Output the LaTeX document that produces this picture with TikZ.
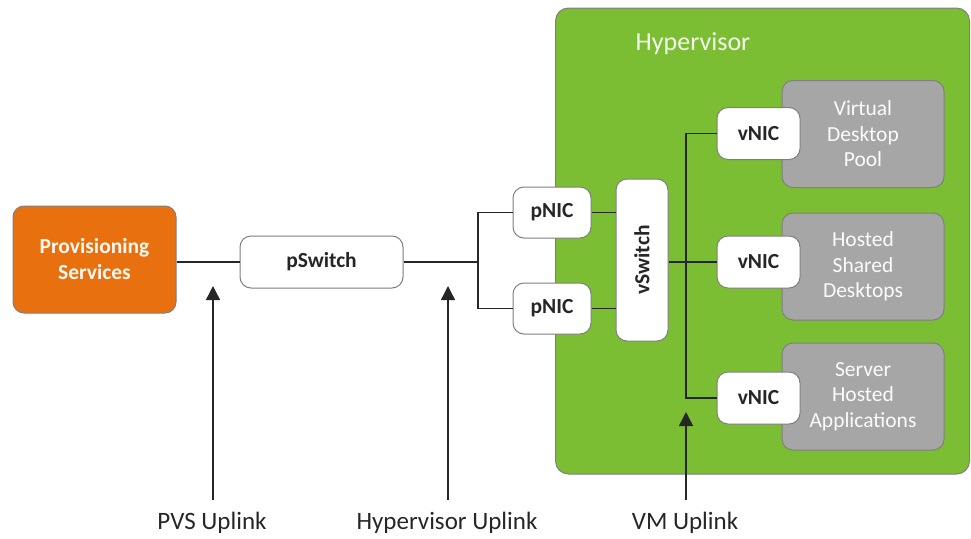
\documentclass[tikz,border=0pt]{standalone}
\usepackage{fontspec}
\setmainfont{Carlito}
\usetikzlibrary{arrows.meta}
\definecolor{hvgreen}{HTML}{7BBD33}
\definecolor{psorange}{HTML}{E8700F}
\definecolor{vmgray}{HTML}{A6A6A6}
\definecolor{bordergray}{HTML}{7F7F7F}
\definecolor{txt}{HTML}{262626}
\begin{document}
\begin{tikzpicture}[x=1pt,y=-1pt,
  every node/.style={font=\fontsize{21.5}{25.5}\selectfont, align=center, inner sep=0pt},
  wbox/.style={draw=bordergray, line width=1pt, fill=white, rounded corners=11pt, text=txt, font=\fontsize{21.5}{25.5}\selectfont\bfseries},
  gbox/.style={draw=bordergray, line width=1pt, fill=vmgray, rounded corners=11pt, text=white!95!vmgray, minimum width=162pt, minimum height=107pt, font=\fontsize{21.5}{25.5}\selectfont},
  conn/.style={line width=1.4pt, draw=black!85},
  uparr/.style={line width=1.4pt, draw=black!85, -{Triangle[width=14pt,length=14pt]}},
  lbl/.style={text=txt, font=\fontsize{25}{30}\selectfont}
]
\useasboundingbox (0,0) rectangle (971,538);
% hypervisor container
\node[draw=bordergray, line width=1pt, fill=hvgreen, rounded corners=13pt, minimum width=414pt, minimum height=466pt] (hv) at (762.5,241) {};
\node[text=white!90!hvgreen, font=\fontsize{26}{30}\selectfont] (hvl) at (693,44) {Hypervisor};
% left side
\node[draw=bordergray, line width=1pt, fill=psorange, rounded corners=11pt, minimum width=163pt, minimum height=107pt, text=white!95!psorange, font=\fontsize{21.5}{26}\selectfont\bfseries] (ps) at (94.5,259.5) {Provisioning\\Services};
\node[wbox, minimum width=163pt, minimum height=52pt] (psw) at (321.5,262) {pSwitch};
\node[wbox, minimum width=78pt, minimum height=51pt] (pn1) at (552,212.5) {pNIC};
\node[wbox, minimum width=78pt, minimum height=51pt] (pn2) at (552,308.5) {pNIC};
\node[wbox, minimum width=52pt, minimum height=162pt] (vsw) at (642,260) {};
\node[rotate=90, text=txt, font=\fontsize{21.5}{25.5}\selectfont\bfseries] (vswl) at (vsw.center) {vSwitch};
% VM boxes
\node[gbox] (vdp) at (863,134) {Virtual\\Desktop\\Pool};
\node[gbox] (hsd) at (863,266.5) {Hosted\\Shared\\Desktops};
\node[gbox] (sha) at (863,396.5) {Server\\Hosted\\Applications};
\node[wbox, minimum width=83pt, minimum height=52pt] (vn1) at (758.5,133.5) {vNIC};
\node[wbox, minimum width=83pt, minimum height=52pt] (vn2) at (758.5,262) {vNIC};
\node[wbox, minimum width=83pt, minimum height=52pt] (vn3) at (758.5,398) {vNIC};
% connectors
\coordinate (j1) at (478,262);
\coordinate (j2) at (686,262);
\draw[conn] (ps.east |- psw.west) -- (psw.west);
\draw[conn] (psw.east) -- (j1);
\draw[conn] (pn1.west) -| (j1) |- (pn2.west);
\draw[conn] (pn1.east) -- (vsw.west |- pn1.east);
\draw[conn] (pn2.east) -- (vsw.west |- pn2.east);
\draw[conn] (vsw.east |- j2) -- (j2);
\draw[conn] (vn1.west) -| (j2) |- (vn3.west);
\draw[conn] (j2) -- (vn2.west);
% uplink labels and arrows
\node[lbl] (l1) at (212,523) {PVS Uplink};
\node[lbl] (l2) at (447,523) {Hypervisor Uplink};
\node[lbl] (l3) at (685,523) {VM Uplink};
\coordinate (t1) at (213,286);
\coordinate (t2) at (448,286);
\coordinate (t3) at (686,412);
\coordinate (b1) at (213,500);
\coordinate (b2) at (448,500);
\coordinate (b3) at (686,500);
\draw[uparr] (b1) -- (t1);
\draw[uparr] (b2) -- (t2);
\draw[uparr] (b3) -- (t3);
\end{tikzpicture}
\end{document}
